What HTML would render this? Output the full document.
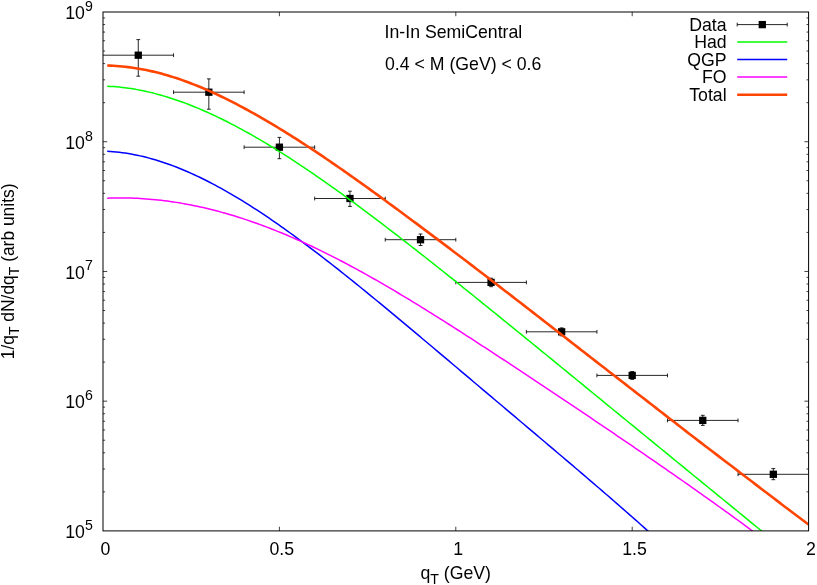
<!DOCTYPE html>
<html><head><meta charset="utf-8"><title>plot</title>
<style>
html,body{margin:0;padding:0;background:#fff;}
svg{display:block;will-change:transform;opacity:0.999;}
text{font-family:"Liberation Sans",sans-serif;font-size:17.7px;fill:#000;}
.sub{font-size:14.16px;}
</style></head><body>
<svg width="817" height="585" viewBox="0 0 817 585">
<rect width="817" height="585" fill="#fff"/>
<defs><clipPath id="cp"><rect x="103.0" y="12.0" width="705.6" height="518.9"/></clipPath></defs>

<path d="M103.0,491.85h2.1 M808.6,491.85h-2.1 M103.0,469.01h2.1 M808.6,469.01h-2.1 M103.0,452.80h2.1 M808.6,452.80h-2.1 M103.0,440.23h2.1 M808.6,440.23h-2.1 M103.0,429.95h2.1 M808.6,429.95h-2.1 M103.0,421.27h2.1 M808.6,421.27h-2.1 M103.0,413.75h2.1 M808.6,413.75h-2.1 M103.0,407.11h2.1 M808.6,407.11h-2.1 M103.0,401.17h4.2 M808.6,401.17h-4.2 M103.0,362.12h2.1 M808.6,362.12h-2.1 M103.0,339.28h2.1 M808.6,339.28h-2.1 M103.0,323.07h2.1 M808.6,323.07h-2.1 M103.0,310.50h2.1 M808.6,310.50h-2.1 M103.0,300.23h2.1 M808.6,300.23h-2.1 M103.0,291.54h2.1 M808.6,291.54h-2.1 M103.0,284.02h2.1 M808.6,284.02h-2.1 M103.0,277.39h2.1 M808.6,277.39h-2.1 M103.0,271.45h4.2 M808.6,271.45h-4.2 M103.0,232.40h2.1 M808.6,232.40h-2.1 M103.0,209.56h2.1 M808.6,209.56h-2.1 M103.0,193.35h2.1 M808.6,193.35h-2.1 M103.0,180.78h2.1 M808.6,180.78h-2.1 M103.0,170.50h2.1 M808.6,170.50h-2.1 M103.0,161.82h2.1 M808.6,161.82h-2.1 M103.0,154.30h2.1 M808.6,154.30h-2.1 M103.0,147.66h2.1 M808.6,147.66h-2.1 M103.0,141.73h4.2 M808.6,141.73h-4.2 M103.0,102.67h2.1 M808.6,102.67h-2.1 M103.0,79.83h2.1 M808.6,79.83h-2.1 M103.0,63.62h2.1 M808.6,63.62h-2.1 M103.0,51.05h2.1 M808.6,51.05h-2.1 M103.0,40.78h2.1 M808.6,40.78h-2.1 M103.0,32.09h2.1 M808.6,32.09h-2.1 M103.0,24.57h2.1 M808.6,24.57h-2.1 M103.0,17.94h2.1 M808.6,17.94h-2.1 M279.40,530.9v-4.2 M279.40,12.0v4.2 M455.80,530.9v-4.2 M455.80,12.0v4.2 M632.20,530.9v-4.2 M632.20,12.0v4.2" stroke="#000" stroke-width="0.75" fill="none"/>
<g clip-path="url(#cp)"><path d="M103.00,55.2H173.56 M173.56,53.300000000000004v3.8 M138.28,39.6V76.2 M136.38,39.6h3.8 M136.38,76.2h3.8 M173.56,92.2H244.12 M173.56,90.3v3.8 M244.12,90.3v3.8 M208.84,78.9V109.2 M206.94,78.9h3.8 M206.94,109.2h3.8 M244.12,147.2H314.68 M244.12,145.29999999999998v3.8 M314.68,145.29999999999998v3.8 M279.40,137.4V158.7 M277.50,137.4h3.8 M277.50,158.7h3.8 M314.68,198.5H385.24 M314.68,196.6v3.8 M385.24,196.6v3.8 M349.96,191.2V206.4 M348.06,191.2h3.8 M348.06,206.4h3.8 M385.24,239.7H455.80 M385.24,237.79999999999998v3.8 M455.80,237.79999999999998v3.8 M420.52,234V245.5 M418.62,234h3.8 M418.62,245.5h3.8 M455.80,282.4H526.36 M455.80,280.5v3.8 M526.36,280.5v3.8 M491.08,278.2V286.7 M489.18,278.2h3.8 M489.18,286.7h3.8 M526.36,331.8H596.92 M526.36,329.90000000000003v3.8 M596.92,329.90000000000003v3.8 M561.64,327.9V335.8 M559.74,327.9h3.8 M559.74,335.8h3.8 M596.92,375.4H667.48 M596.92,373.5v3.8 M667.48,373.5v3.8 M632.20,371.5V379.4 M630.30,371.5h3.8 M630.30,379.4h3.8 M667.48,420.4H738.04 M667.48,418.5v3.8 M738.04,418.5v3.8 M702.76,415.3V425.4 M700.86,415.3h3.8 M700.86,425.4h3.8 M738.04,474.3H808.60 M738.04,472.40000000000003v3.8 M773.32,468.6V479.7 M771.42,468.6h3.8 M771.42,479.7h3.8" stroke="#000" stroke-width="0.85" fill="none"/></g>
<rect x="134.63" y="51.55" width="7.3" height="7.3" fill="#000"/><rect x="205.19" y="88.55" width="7.3" height="7.3" fill="#000"/><rect x="275.75" y="143.55" width="7.3" height="7.3" fill="#000"/><rect x="346.31" y="194.85" width="7.3" height="7.3" fill="#000"/><rect x="416.87" y="236.05" width="7.3" height="7.3" fill="#000"/><rect x="487.43" y="278.75" width="7.3" height="7.3" fill="#000"/><rect x="557.99" y="328.15" width="7.3" height="7.3" fill="#000"/><rect x="628.55" y="371.75" width="7.3" height="7.3" fill="#000"/><rect x="699.11" y="416.75" width="7.3" height="7.3" fill="#000"/><rect x="769.67" y="470.65" width="7.3" height="7.3" fill="#000"/>
<g clip-path="url(#cp)" fill="none" stroke-linejoin="round">
<path d="M107.2,86.30 L110.2,86.44 L113.2,86.61 L116.2,86.83 L119.2,87.10 L122.2,87.41 L125.2,87.77 L128.2,88.17 L131.2,88.61 L134.2,89.09 L137.2,89.62 L140.2,90.18 L143.2,90.79 L146.2,91.44 L149.2,92.12 L152.2,92.84 L155.2,93.61 L158.2,94.40 L161.2,95.24 L164.2,96.11 L167.2,97.02 L170.2,97.96 L173.2,98.93 L176.2,99.94 L179.2,100.99 L182.2,102.06 L185.2,103.17 L188.2,104.31 L191.2,105.48 L194.2,106.68 L197.2,107.91 L200.2,109.17 L203.2,110.46 L206.2,111.78 L209.2,113.13 L212.2,114.51 L215.2,115.91 L218.2,117.34 L221.2,118.79 L224.2,120.27 L227.2,121.78 L230.2,123.31 L233.2,124.86 L236.2,126.44 L239.2,128.04 L242.2,129.67 L245.2,131.31 L248.2,132.98 L251.2,134.67 L254.2,136.38 L257.2,138.12 L260.2,139.87 L263.2,141.64 L266.2,143.44 L269.2,145.25 L272.2,147.08 L275.2,148.93 L278.2,150.79 L281.2,152.68 L284.2,154.58 L287.2,156.49 L290.2,158.43 L293.2,160.38 L296.2,162.34 L299.2,164.33 L302.2,166.32 L305.2,168.33 L308.2,170.36 L311.2,172.40 L314.2,174.45 L317.2,176.51 L320.2,178.59 L323.2,180.68 L326.2,182.79 L329.2,184.90 L332.2,187.03 L335.2,189.17 L338.2,191.32 L341.2,193.48 L344.2,195.65 L347.2,197.83 L350.2,200.02 L353.2,202.22 L356.2,204.43 L359.2,206.65 L362.2,208.87 L365.2,211.11 L368.2,213.35 L371.2,215.61 L374.2,217.87 L377.2,220.13 L380.2,222.41 L383.2,224.69 L386.2,226.98 L389.2,229.28 L392.2,231.58 L395.2,233.89 L398.2,236.20 L401.2,238.52 L404.2,240.85 L407.2,243.18 L410.2,245.52 L413.2,247.86 L416.2,250.21 L419.2,252.56 L422.2,254.92 L425.2,257.28 L428.2,259.64 L431.2,262.01 L434.2,264.39 L437.2,266.76 L440.2,269.14 L443.2,271.53 L446.2,273.92 L449.2,276.31 L452.2,278.70 L455.2,281.10 L458.2,283.50 L461.2,285.90 L464.2,288.31 L467.2,290.72 L470.2,293.13 L473.2,295.54 L476.2,297.96 L479.2,300.38 L482.2,302.80 L485.2,305.22 L488.2,307.64 L491.2,310.07 L494.2,312.50 L497.2,314.93 L500.2,317.36 L503.2,319.80 L506.2,322.23 L509.2,324.67 L512.2,327.11 L515.2,329.55 L518.2,331.99 L521.2,334.43 L524.2,336.87 L527.2,339.32 L530.2,341.76 L533.2,344.21 L536.2,346.66 L539.2,349.11 L542.2,351.56 L545.2,354.01 L548.2,356.46 L551.2,358.91 L554.2,361.36 L557.2,363.81 L560.2,366.27 L563.2,368.72 L566.2,371.17 L569.2,373.63 L572.2,376.08 L575.2,378.54 L578.2,380.99 L581.2,383.45 L584.2,385.91 L587.2,388.36 L590.2,390.82 L593.2,393.27 L596.2,395.73 L599.2,398.19 L602.2,400.64 L605.2,403.10 L608.2,405.55 L611.2,408.01 L614.2,410.47 L617.2,412.92 L620.2,415.38 L623.2,417.83 L626.2,420.29 L629.2,422.75 L632.2,425.20 L635.2,427.66 L638.2,430.11 L641.2,432.56 L644.2,435.02 L647.2,437.47 L650.2,439.93 L653.2,442.38 L656.2,444.83 L659.2,447.29 L662.2,449.74 L665.2,452.19 L668.2,454.65 L671.2,457.10 L674.2,459.55 L677.2,462.00 L680.2,464.45 L683.2,466.91 L686.2,469.36 L689.2,471.81 L692.2,474.26 L695.2,476.71 L698.2,479.16 L701.2,481.61 L704.2,484.06 L707.2,486.51 L710.2,488.97 L713.2,491.42 L716.2,493.87 L719.2,496.32 L722.2,498.77 L725.2,501.22 L728.2,503.67 L731.2,506.12 L734.2,508.58 L737.2,511.03 L740.2,513.48 L743.2,515.93 L746.2,518.39 L749.2,520.84 L752.2,523.30 L755.2,525.75 L758.2,528.21 L761.2,530.66 L764.2,533.12 L767.2,535.57 L770.0,537.86" stroke="#00ff00" stroke-width="1.5"/>
<path d="M107.2,151.37 L110.2,151.53 L113.2,151.74 L116.2,152.01 L119.2,152.32 L122.2,152.69 L125.2,153.10 L128.2,153.56 L131.2,154.08 L134.2,154.64 L137.2,155.24 L140.2,155.89 L143.2,156.59 L146.2,157.33 L149.2,158.12 L152.2,158.94 L155.2,159.81 L158.2,160.73 L161.2,161.68 L164.2,162.68 L167.2,163.71 L170.2,164.78 L173.2,165.90 L176.2,167.05 L179.2,168.23 L182.2,169.46 L185.2,170.72 L188.2,172.02 L191.2,173.35 L194.2,174.71 L197.2,176.11 L200.2,177.54 L203.2,179.01 L206.2,180.50 L209.2,182.03 L212.2,183.59 L215.2,185.17 L218.2,186.79 L221.2,188.44 L224.2,190.11 L227.2,191.81 L230.2,193.54 L233.2,195.30 L236.2,197.08 L239.2,198.88 L242.2,200.72 L245.2,202.57 L248.2,204.45 L251.2,206.36 L254.2,208.28 L257.2,210.23 L260.2,212.20 L263.2,214.19 L266.2,216.21 L269.2,218.24 L272.2,220.29 L275.2,222.36 L278.2,224.45 L281.2,226.56 L284.2,228.69 L287.2,230.83 L290.2,232.99 L293.2,235.17 L296.2,237.36 L299.2,239.57 L302.2,241.79 L305.2,244.03 L308.2,246.28 L311.2,248.54 L314.2,250.82 L317.2,253.11 L320.2,255.41 L323.2,257.73 L326.2,260.05 L329.2,262.39 L332.2,264.74 L335.2,267.10 L338.2,269.46 L341.2,271.84 L344.2,274.23 L347.2,276.62 L350.2,279.03 L353.2,281.44 L356.2,283.86 L359.2,286.28 L362.2,288.72 L365.2,291.16 L368.2,293.60 L371.2,296.06 L374.2,298.52 L377.2,300.98 L380.2,303.45 L383.2,305.93 L386.2,308.41 L389.2,310.89 L392.2,313.38 L395.2,315.87 L398.2,318.37 L401.2,320.87 L404.2,323.37 L407.2,325.88 L410.2,328.39 L413.2,330.90 L416.2,333.41 L419.2,335.93 L422.2,338.45 L425.2,340.97 L428.2,343.49 L431.2,346.02 L434.2,348.54 L437.2,351.07 L440.2,353.60 L443.2,356.13 L446.2,358.66 L449.2,361.19 L452.2,363.72 L455.2,366.25 L458.2,368.79 L461.2,371.32 L464.2,373.85 L467.2,376.39 L470.2,378.92 L473.2,381.46 L476.2,383.99 L479.2,386.52 L482.2,389.06 L485.2,391.59 L488.2,394.13 L491.2,396.66 L494.2,399.20 L497.2,401.73 L500.2,404.27 L503.2,406.80 L506.2,409.33 L509.2,411.87 L512.2,414.40 L515.2,416.94 L518.2,419.47 L521.2,422.00 L524.2,424.54 L527.2,427.07 L530.2,429.61 L533.2,432.14 L536.2,434.68 L539.2,437.22 L542.2,439.75 L545.2,442.29 L548.2,444.83 L551.2,447.37 L554.2,449.91 L557.2,452.45 L560.2,455.00 L563.2,457.54 L566.2,460.09 L569.2,462.64 L572.2,465.19 L575.2,467.75 L578.2,470.30 L581.2,472.86 L584.2,475.42 L587.2,477.99 L590.2,480.56 L593.2,483.13 L596.2,485.70 L599.2,488.28 L602.2,490.87 L605.2,493.46 L608.2,496.05 L611.2,498.65 L614.2,501.25 L617.2,503.86 L620.2,506.47 L623.2,509.10 L626.2,511.72 L629.2,514.36 L632.2,517.00 L635.2,519.65 L638.2,522.30 L641.2,524.97 L644.2,527.64 L647.2,530.32 L650.2,533.00 L653.2,535.67 L655.0,537.27" stroke="#0000ff" stroke-width="1.5"/>
<path d="M107.2,198.20 L110.2,198.10 L113.2,198.02 L116.2,197.97 L119.2,197.95 L122.2,197.95 L125.2,197.98 L128.2,198.03 L131.2,198.11 L134.2,198.22 L137.2,198.35 L140.2,198.51 L143.2,198.69 L146.2,198.90 L149.2,199.14 L152.2,199.40 L155.2,199.68 L158.2,199.99 L161.2,200.33 L164.2,200.69 L167.2,201.07 L170.2,201.48 L173.2,201.92 L176.2,202.38 L179.2,202.86 L182.2,203.37 L185.2,203.90 L188.2,204.46 L191.2,205.04 L194.2,205.64 L197.2,206.27 L200.2,206.92 L203.2,207.59 L206.2,208.29 L209.2,209.01 L212.2,209.75 L215.2,210.52 L218.2,211.31 L221.2,212.12 L224.2,212.95 L227.2,213.81 L230.2,214.68 L233.2,215.58 L236.2,216.50 L239.2,217.45 L242.2,218.41 L245.2,219.40 L248.2,220.40 L251.2,221.43 L254.2,222.48 L257.2,223.55 L260.2,224.63 L263.2,225.74 L266.2,226.87 L269.2,228.02 L272.2,229.19 L275.2,230.37 L278.2,231.58 L281.2,232.80 L284.2,234.05 L287.2,235.31 L290.2,236.59 L293.2,237.89 L296.2,239.21 L299.2,240.54 L302.2,241.89 L305.2,243.26 L308.2,244.65 L311.2,246.05 L314.2,247.47 L317.2,248.91 L320.2,250.36 L323.2,251.83 L326.2,253.31 L329.2,254.81 L332.2,256.33 L335.2,257.86 L338.2,259.40 L341.2,260.96 L344.2,262.53 L347.2,264.12 L350.2,265.72 L353.2,267.34 L356.2,268.96 L359.2,270.60 L362.2,272.26 L365.2,273.92 L368.2,275.60 L371.2,277.29 L374.2,278.99 L377.2,280.70 L380.2,282.43 L383.2,284.16 L386.2,285.91 L389.2,287.66 L392.2,289.43 L395.2,291.20 L398.2,292.99 L401.2,294.78 L404.2,296.58 L407.2,298.39 L410.2,300.21 L413.2,302.04 L416.2,303.88 L419.2,305.72 L422.2,307.57 L425.2,309.42 L428.2,311.29 L431.2,313.16 L434.2,315.03 L437.2,316.92 L440.2,318.81 L443.2,320.70 L446.2,322.60 L449.2,324.50 L452.2,326.41 L455.2,328.33 L458.2,330.25 L461.2,332.17 L464.2,334.10 L467.2,336.04 L470.2,337.97 L473.2,339.91 L476.2,341.86 L479.2,343.81 L482.2,345.76 L485.2,347.71 L488.2,349.67 L491.2,351.63 L494.2,353.59 L497.2,355.56 L500.2,357.53 L503.2,359.50 L506.2,361.48 L509.2,363.45 L512.2,365.43 L515.2,367.41 L518.2,369.40 L521.2,371.38 L524.2,373.37 L527.2,375.36 L530.2,377.35 L533.2,379.34 L536.2,381.34 L539.2,383.33 L542.2,385.33 L545.2,387.33 L548.2,389.33 L551.2,391.33 L554.2,393.34 L557.2,395.34 L560.2,397.35 L563.2,399.36 L566.2,401.37 L569.2,403.38 L572.2,405.39 L575.2,407.40 L578.2,409.42 L581.2,411.43 L584.2,413.45 L587.2,415.47 L590.2,417.49 L593.2,419.52 L596.2,421.54 L599.2,423.57 L602.2,425.60 L605.2,427.63 L608.2,429.66 L611.2,431.69 L614.2,433.73 L617.2,435.76 L620.2,437.80 L623.2,439.85 L626.2,441.89 L629.2,443.94 L632.2,445.99 L635.2,448.04 L638.2,450.09 L641.2,452.15 L644.2,454.21 L647.2,456.27 L650.2,458.33 L653.2,460.40 L656.2,462.47 L659.2,464.54 L662.2,466.62 L665.2,468.70 L668.2,470.78 L671.2,472.87 L674.2,474.96 L677.2,477.05 L680.2,479.15 L683.2,481.25 L686.2,483.35 L689.2,485.46 L692.2,487.57 L695.2,489.68 L698.2,491.80 L701.2,493.92 L704.2,496.05 L707.2,498.18 L710.2,500.32 L713.2,502.46 L716.2,504.60 L719.2,506.75 L722.2,508.91 L725.2,511.07 L728.2,513.23 L731.2,515.40 L734.2,517.58 L737.2,519.76 L740.2,521.94 L743.2,524.13 L746.2,526.33 L749.2,528.53 L752.2,530.74 L755.2,532.94 L758.2,535.14 L760.0,536.46" stroke="#ff00ff" stroke-width="1.5"/>
<path d="M107.2,65.56 L110.2,65.66 L113.2,65.80 L116.2,65.98 L119.2,66.20 L122.2,66.47 L125.2,66.77 L128.2,67.12 L131.2,67.51 L134.2,67.94 L137.2,68.41 L140.2,68.92 L143.2,69.47 L146.2,70.06 L149.2,70.69 L152.2,71.36 L155.2,72.07 L158.2,72.82 L161.2,73.60 L164.2,74.43 L167.2,75.29 L170.2,76.18 L173.2,77.12 L176.2,78.08 L179.2,79.09 L182.2,80.12 L185.2,81.20 L188.2,82.30 L191.2,83.44 L194.2,84.61 L197.2,85.81 L200.2,87.04 L203.2,88.30 L206.2,89.59 L209.2,90.91 L212.2,92.26 L215.2,93.63 L218.2,95.03 L221.2,96.46 L224.2,97.91 L227.2,99.39 L230.2,100.89 L233.2,102.42 L236.2,103.96 L239.2,105.54 L242.2,107.13 L245.2,108.74 L248.2,110.38 L251.2,112.03 L254.2,113.70 L257.2,115.40 L260.2,117.11 L263.2,118.84 L266.2,120.59 L269.2,122.36 L272.2,124.14 L275.2,125.94 L278.2,127.75 L281.2,129.59 L284.2,131.43 L287.2,133.30 L290.2,135.17 L293.2,137.06 L296.2,138.97 L299.2,140.89 L302.2,142.82 L305.2,144.77 L308.2,146.73 L311.2,148.70 L314.2,150.68 L317.2,152.68 L320.2,154.69 L323.2,156.70 L326.2,158.73 L329.2,160.77 L332.2,162.83 L335.2,164.89 L338.2,166.96 L341.2,169.04 L344.2,171.13 L347.2,173.23 L350.2,175.34 L353.2,177.46 L356.2,179.58 L359.2,181.71 L362.2,183.85 L365.2,186.00 L368.2,188.16 L371.2,190.32 L374.2,192.49 L377.2,194.67 L380.2,196.85 L383.2,199.03 L386.2,201.23 L389.2,203.43 L392.2,205.63 L395.2,207.84 L398.2,210.05 L401.2,212.26 L404.2,214.49 L407.2,216.71 L410.2,218.94 L413.2,221.17 L416.2,223.40 L419.2,225.64 L422.2,227.88 L425.2,230.12 L428.2,232.36 L431.2,234.61 L434.2,236.86 L437.2,239.12 L440.2,241.37 L443.2,243.63 L446.2,245.89 L449.2,248.16 L452.2,250.42 L455.2,252.69 L458.2,254.97 L461.2,257.25 L464.2,259.52 L467.2,261.81 L470.2,264.09 L473.2,266.38 L476.2,268.67 L479.2,270.97 L482.2,273.26 L485.2,275.56 L488.2,277.87 L491.2,280.17 L494.2,282.48 L497.2,284.79 L500.2,287.10 L503.2,289.41 L506.2,291.72 L509.2,294.04 L512.2,296.36 L515.2,298.68 L518.2,301.00 L521.2,303.33 L524.2,305.65 L527.2,307.98 L530.2,310.31 L533.2,312.64 L536.2,314.96 L539.2,317.30 L542.2,319.63 L545.2,321.96 L548.2,324.29 L551.2,326.62 L554.2,328.96 L557.2,331.29 L560.2,333.62 L563.2,335.96 L566.2,338.29 L569.2,340.62 L572.2,342.95 L575.2,345.29 L578.2,347.62 L581.2,349.95 L584.2,352.28 L587.2,354.61 L590.2,356.94 L593.2,359.27 L596.2,361.60 L599.2,363.93 L602.2,366.26 L605.2,368.58 L608.2,370.91 L611.2,373.24 L614.2,375.56 L617.2,377.89 L620.2,380.22 L623.2,382.54 L626.2,384.87 L629.2,387.19 L632.2,389.52 L635.2,391.85 L638.2,394.17 L641.2,396.50 L644.2,398.82 L647.2,401.15 L650.2,403.48 L653.2,405.80 L656.2,408.13 L659.2,410.45 L662.2,412.78 L665.2,415.10 L668.2,417.42 L671.2,419.75 L674.2,422.07 L677.2,424.39 L680.2,426.71 L683.2,429.04 L686.2,431.35 L689.2,433.67 L692.2,435.98 L695.2,438.29 L698.2,440.60 L701.2,442.90 L704.2,445.20 L707.2,447.49 L710.2,449.78 L713.2,452.07 L716.2,454.35 L719.2,456.63 L722.2,458.91 L725.2,461.20 L728.2,463.49 L731.2,465.79 L734.2,468.08 L737.2,470.37 L740.2,472.66 L743.2,474.95 L746.2,477.24 L749.2,479.53 L752.2,481.82 L755.2,484.11 L758.2,486.40 L761.2,488.69 L764.2,490.98 L767.2,493.27 L770.2,495.55 L773.2,497.84 L776.2,500.12 L779.2,502.40 L782.2,504.68 L785.2,506.96 L788.2,509.23 L791.2,511.50 L794.2,513.76 L797.2,516.03 L800.2,518.28 L803.2,520.53 L806.2,522.78 L808.6,524.57" stroke="#ff4500" stroke-width="2.6"/>
</g>
<rect x="103.0" y="12.0" width="705.6" height="518.9" fill="none" stroke="#000" stroke-width="1"/>
<text x="84.9" y="538.1" text-anchor="end">10</text><text class="sub" x="85.0" y="529.9">5</text>
<text x="84.9" y="408.4" text-anchor="end">10</text><text class="sub" x="85.0" y="400.2">6</text>
<text x="84.9" y="278.6" text-anchor="end">10</text><text class="sub" x="85.0" y="270.4">7</text>
<text x="84.9" y="148.9" text-anchor="end">10</text><text class="sub" x="85.0" y="140.7">8</text>
<text x="84.9" y="19.2" text-anchor="end">10</text><text class="sub" x="85.0" y="11.0">9</text>
<text x="105.3" y="554.5" text-anchor="middle">0</text>
<text x="281.7" y="554.5" text-anchor="middle">0.5</text>
<text x="458.1" y="554.5" text-anchor="middle">1</text>
<text x="634.5" y="554.5" text-anchor="middle">1.5</text>
<text x="810.9" y="554.5" text-anchor="middle">2</text>
<text x="420.4" y="578.9">q<tspan class="sub" dy="4.9">T</tspan><tspan dy="-4.9"> (GeV)</tspan></text>
<text transform="translate(14,359.2) rotate(-90) scale(0.984,1)" x="0" y="0">1/q<tspan class="sub" dy="4.9">T</tspan><tspan dy="-4.9"> dN/dq</tspan><tspan class="sub" dy="4.9">T</tspan><tspan dy="-4.9"> (arb units)</tspan></text>
<text x="384.6" y="38.3">In-In SemiCentral</text>
<text x="385.0" y="69.7">0.4 &lt; M (GeV) &lt; 0.6</text>
<text x="726.6" y="30.8" text-anchor="end">Data</text>
<path d="M737.2,24.6H787.2 M737.2,22.700000000000003v3.8 M787.2,22.700000000000003v3.8" stroke="#000" stroke-width="0.85" fill="none"/>
<rect x="758.65" y="20.95" width="7.3" height="7.3" fill="#000"/>
<text x="726.6" y="48.2" text-anchor="end">Had</text>
<path d="M737.2,42.0H787.2" stroke="#00ff00" stroke-width="1.5" fill="none"/>
<text x="726.6" y="65.7" text-anchor="end">QGP</text>
<path d="M737.2,59.5H787.2" stroke="#0000ff" stroke-width="1.5" fill="none"/>
<text x="726.6" y="83.3" text-anchor="end">FO</text>
<path d="M737.2,77.1H787.2" stroke="#ff00ff" stroke-width="1.5" fill="none"/>
<text x="726.6" y="101.0" text-anchor="end">Total</text>
<path d="M737.2,94.8H787.2" stroke="#ff4500" stroke-width="2.6" fill="none"/>
</svg></body></html>
